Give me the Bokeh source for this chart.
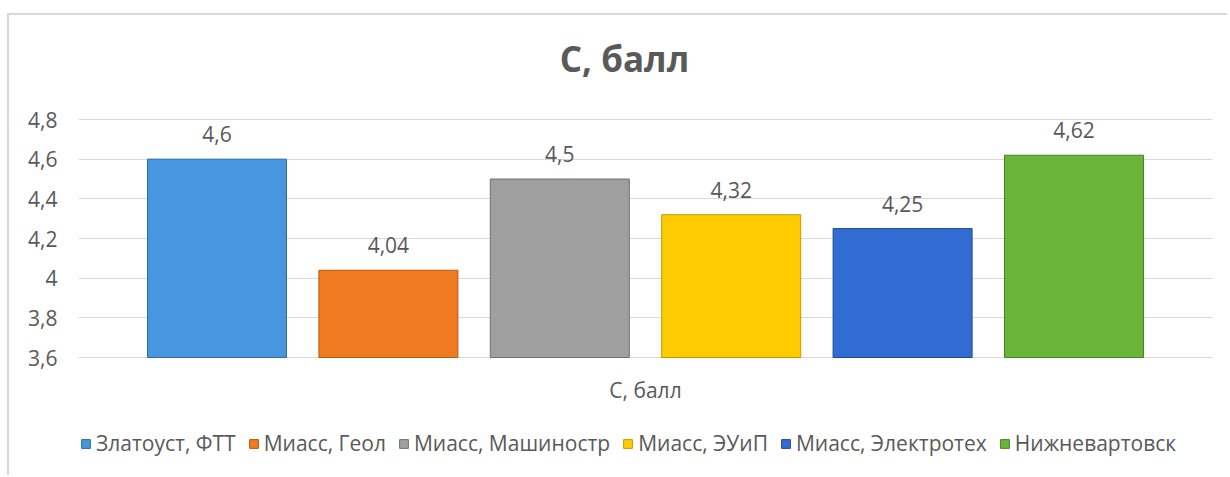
from bokeh.plotting import figure
from bokeh.models import (ColumnDataSource, Range1d, FixedTicker, Legend, LegendItem,
                          LabelSet, Label)
from bokeh.core.properties import value
from bokeh.embed import file_html
from bokeh.resources import INLINE

# ---- data ----
title_text = "С, балл"
category = "С, балл"
series = ["Златоуст, ФТТ", "Миасс, Геол", "Миасс, Машиностр", "Миасс, ЭУиП",
          "Миасс, Электротех", "Нижневартовск"]
values = [4.6, 4.04, 4.5, 4.32, 4.25, 4.62]
value_labels = ["4,6", "4,04", "4,5", "4,32", "4,25", "4,62"]
y_ticks = [3.6, 3.8, 4.0, 4.2, 4.4, 4.6, 4.8]
y_tick_labels = ["3,6", "3,8", "4", "4,2", "4,4", "4,6", "4,8"]

# ---- styles ----
fill_colors = ["#4896df", "#f07a20", "#9f9f9f", "#fdcb00", "#316cd3", "#6ab538"]
edge_colors = ["#2f6aa8", "#b85a14", "#707070", "#c29a00", "#1f4a96", "#4a8226"]
FONT = "Open Sans"
TXT = "#595959"
GRID = "#d9d9d9"
FS = "21px"

W, H = 1220, 462          # canvas size
PLOT_TOP, PLOT_BOTTOM = 104, 342   # pixel rows of the top / bottom gridline

n = len(series)
xs = list(range(n))
pad = 0.808
bar_w = 0.811

# extend the value range so that the frame fills the canvas height
ppu = (PLOT_BOTTOM - PLOT_TOP) / (y_ticks[-1] - y_ticks[0])
y_hi = y_ticks[-1] + PLOT_TOP / ppu
y_lo = y_ticks[0] - (H - PLOT_BOTTOM) / ppu

p = figure(width=W, height=H, output_backend="svg", toolbar_location=None,
           x_axis_location=None,
           x_range=Range1d(-pad, n - 1 + pad), y_range=Range1d(y_lo, y_hi),
           min_border_left=69, min_border_right=17, min_border_top=0, min_border_bottom=0)
p.outline_line_color = None
p.background_fill_color = "white"
p.border_fill_color = "white"
p.styles = {"margin-left": "7px", "margin-top": "13px",
            "border-left": "2px solid #d9d9d9", "border-top": "2px solid #d9d9d9"}

renderers = []
for i in range(n):
    src = ColumnDataSource(dict(x=[xs[i]], top=[values[i]], bottom=[y_ticks[0]],
                                label=[value_labels[i]]))
    r = p.vbar(x="x", top="top", bottom="bottom", width=bar_w, source=src,
               fill_color=fill_colors[i], line_color=edge_colors[i], line_width=1)
    renderers.append(r)
    ls = LabelSet(x="x", y="top", text="label", source=src, text_align="center",
                  text_baseline="alphabetic", y_offset=17, text_font=value(FONT),
                  text_font_size=value(FS), text_color=value(TXT))
    p.add_layout(ls)

# y axis
p.yaxis.ticker = FixedTicker(ticks=y_ticks)
p.yaxis.major_label_overrides = {t: l for t, l in zip(y_ticks, y_tick_labels)}
p.yaxis.axis_line_color = None
p.yaxis.major_tick_line_color = None
p.yaxis.minor_tick_line_color = None
p.yaxis.major_tick_out = 0
p.yaxis.major_label_standoff = 21
p.yaxis.major_label_text_font = FONT
p.yaxis.major_label_text_font_size = FS
p.yaxis.major_label_text_color = TXT

for g in p.grid:
    if g.dimension == 0:
        g.grid_line_color = None
        g.visible = False
p.ygrid.grid_line_color = GRID
p.ygrid.ticker = FixedTicker(ticks=y_ticks)

center_x = (xs[0] + xs[-1]) / 2

# category label under the baseline
p.add_layout(Label(x=center_x, y=y_ticks[0], y_offset=-32, text=category,
                   text_align="center", text_baseline="alphabetic", text_font=FONT,
                   text_font_size=FS, text_color=TXT))

# chart title
p.add_layout(Label(x=center_x, y=y_ticks[-1], x_offset=-21, y_offset=61, text=title_text,
                   text_align="center", text_baseline="alphabetic", text_font=FONT,
                   text_font_size="35px", text_font_style="bold", text_color=TXT))

legend = Legend(items=[LegendItem(label=series[i], renderers=[renderers[i]]) for i in range(n)],
                orientation="horizontal", location=(2, 20))
legend.glyph_width = 11
legend.glyph_height = 11
legend.label_standoff = 5
legend.spacing = 12
legend.padding = 0
legend.margin = 0
legend.border_line_color = None
legend.background_fill_alpha = 0
legend.label_text_font = FONT
legend.label_text_font_size = FS
legend.label_text_color = TXT
p.add_layout(legend, "center")

open("out.html", "w").write(file_html(p, INLINE))
